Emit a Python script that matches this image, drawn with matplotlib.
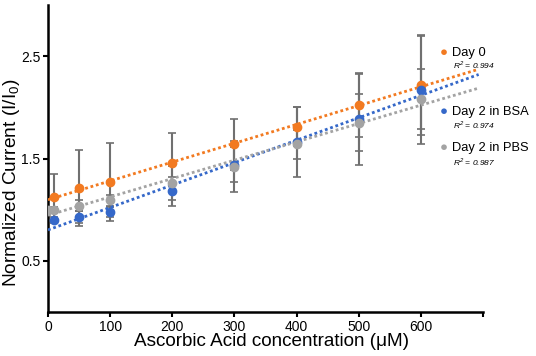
import numpy as np
import matplotlib
matplotlib.use("Agg")
import matplotlib.pyplot as plt

plt.rcParams['font.family'] = ['Liberation Sans', 'DejaVu Sans']

conc = [10, 50, 100, 200, 300, 400, 500, 600]
conc_pbs = [0, 10, 50, 100, 200, 300, 400, 500, 600]

day0 = [1.12, 1.21, 1.27, 1.46, 1.64, 1.81, 2.02, 2.22]
day0_err = [0.23, 0.37, 0.38, 0.29, 0.25, 0.19, 0.31, 0.49]
bsa = [0.90, 0.93, 0.98, 1.18, 1.44, 1.66, 1.89, 2.17]
bsa_err = [0.03, 0.06, 0.05, 0.14, 0.17, 0.34, 0.45, 0.53]
pbs = [1.00, 1.00, 1.04, 1.09, 1.26, 1.42, 1.64, 1.85, 2.08]
pbs_err = [0.0, 0.03, 0.05, 0.05, 0.17, 0.25, 0.14, 0.28, 0.29]

labels = ["Day 0", "Day 2 in BSA", "Day 2 in PBS"]
r2 = ["0.994", "0.974", "0.987"]
colors = ["#F27A21", "#3568C9", "#A3A3A3"]
err_color = "#707070"

x_ticks = [0, 100, 200, 300, 400, 500, 600]
y_ticks = [0.5, 1.5, 2.5]

fig = plt.figure(figsize=(5.36, 3.56), dpi=100)
ax = fig.add_axes([48/536, 1-312/356, 435/536, 307/356])

series = [(conc, day0, day0_err), (conc, bsa, bsa_err), (conc_pbs, pbs, pbs_err)]

# error bars
for xs, ys, es in series:
    ax.errorbar(xs, ys, yerr=es, fmt='none', ecolor=err_color, elinewidth=1.5,
                capsize=3, capthick=1.2, zorder=2)

# trend lines
xfit = np.array([0, 693])
for (xs, ys, es), c in zip(series, colors):
    p = np.polyfit(xs, ys, 1)
    ax.plot(xfit, np.polyval(p, xfit), linestyle=(0, (1, 1)), color=c, lw=2.0, zorder=3)

# markers
for (xs, ys, es), c in zip(series, colors):
    ax.plot(xs, ys, 'o', color=c, ms=6, mec=c, zorder=4)

ax.set_xlim(0, 700)
ax.set_ylim(0, 3.0)
ax.set_xticks(x_ticks + [700])
ax.set_xticklabels([str(t) for t in x_ticks] + [""], fontsize=10)
ax.set_yticks(y_ticks)
ax.set_yticklabels([str(t) for t in y_ticks], fontsize=10)
for s in ['top', 'right']:
    ax.spines[s].set_visible(False)
for s in ['left', 'bottom']:
    ax.spines[s].set_linewidth(1.8)
ax.tick_params(axis='both', direction='out', length=3.5, width=1.5, pad=2)

fig.text(271/536, 1-341/356, "Ascorbic Acid concentration (μM)", fontsize=13.6,
         ha='center', va='center')
fig.text(12/536, 1-183/356, "Normalized Current (I/I$_\\mathregular{0}$)", fontsize=13.8,
         ha='center', va='center', rotation=90)

# legend
leg_y = [53, 112, 148]
r2_y = [65, 125, 162]
for lab, r, c, ly, ry in zip(labels, r2, colors, leg_y, r2_y):
    fig.text(444/536, 1-ly/356, "\u25CF", color=c, fontsize=9.5, ha='center', va='center')
    fig.text(452/536, 1-ly/356, lab, fontsize=9.3, ha='left', va='center')
    fig.text(453/536, 1-ry/356, "R$^\\mathregular{2}$ = " + r, fontsize=6, style='italic',
             ha='left', va='center')

fig.savefig("out.png", dpi=100)
